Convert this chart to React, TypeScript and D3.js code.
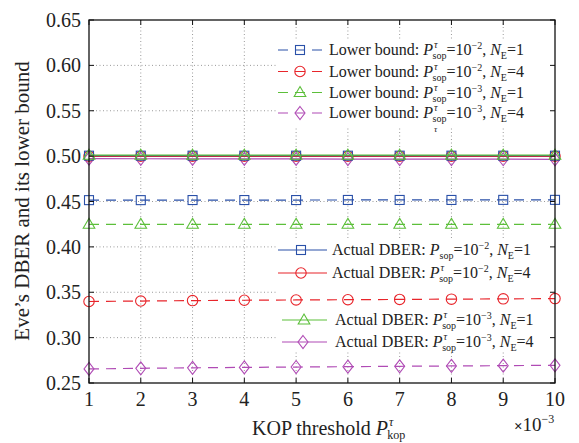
import React from "react";
import * as d3 from "d3";

const xValues = [1, 2, 3, 4, 5, 6, 7, 8, 9, 10];
const xTicks = [1, 2, 3, 4, 5, 6, 7, 8, 9, 10];
const yTicks = [0.25, 0.3, 0.35, 0.4, 0.45, 0.5, 0.55, 0.6, 0.65];

// Lower bounds (dashed)
const lbSop2NE1 = [0.4515, 0.4515, 0.4516, 0.4516, 0.4516, 0.4517, 0.4517, 0.4517, 0.4518, 0.4518];
const lbSop2NE4 = [0.3398, 0.3403, 0.3408, 0.3412, 0.3415, 0.3418, 0.3421, 0.3424, 0.3427, 0.343];
const lbSop3NE1 = [0.4249, 0.4249, 0.4249, 0.4249, 0.4249, 0.4249, 0.4249, 0.4249, 0.4249, 0.4249];
const lbSop3NE4 = [0.2655, 0.2662, 0.2667, 0.2672, 0.2676, 0.268, 0.2684, 0.2688, 0.2691, 0.2695];

// Actual DBER (solid)
const acSop2NE1 = [0.5005, 0.5005, 0.5005, 0.5005, 0.5005, 0.5005, 0.5005, 0.5005, 0.5005, 0.5005];
const acSop2NE4 = [0.4998, 0.4998, 0.4998, 0.4998, 0.4998, 0.4998, 0.4998, 0.4998, 0.4998, 0.4998];
const acSop3NE1 = [0.501, 0.501, 0.501, 0.501, 0.501, 0.501, 0.501, 0.501, 0.501, 0.501];
const acSop3NE4 = [0.4972, 0.4971, 0.497, 0.497, 0.4969, 0.4968, 0.4968, 0.4967, 0.4966, 0.4965];

const BLUE = "#2a50a8";
const RED = "#e8252b";
const GREEN = "#5cbf3a";
const MAGENTA = "#b04bb5";

const FONT = '"Liberation Serif", "Times New Roman", Times, serif';

const L = 89, R = 555, T = 20, B = 383;
const x = d3.scaleLinear().domain([1, 10]).range([L, R]);
const y = d3.scaleLinear().domain([0.25, 0.65]).range([B, T]);

type Shape = "square" | "circle" | "triangle" | "diamond";

function Marker({ shape, cx, cy, color }: { shape: Shape; cx: number; cy: number; color: string }) {
  const common = { fill: "none", stroke: color, strokeWidth: 1.1 };
  if (shape === "square") return <rect x={cx - 4.5} y={cy - 4.5} width={9} height={9} {...common} />;
  if (shape === "circle") return <circle cx={cx} cy={cy} r={5.2} {...common} />;
  if (shape === "triangle")
    return <path d={`M${cx},${cy - 6} L${cx + 5.8},${cy + 4} L${cx - 5.8},${cy + 4} Z`} {...common} />;
  return <path d={`M${cx},${cy - 6.5} L${cx + 5},${cy} L${cx},${cy + 6.5} L${cx - 5},${cy} Z`} {...common} />;
}

function Series({ values, color, shape, dashed }: { values: number[]; color: string; shape: Shape; dashed: boolean }) {
  const line = d3.line<number>().x((_, i) => x(xValues[i])).y((v) => y(v));
  return (
    <g>
      <path d={line(values) || ""} fill="none" stroke={color} strokeWidth={1.2} strokeDasharray={dashed ? "10,7" : undefined} />
      {values.map((v, i) => (
        <Marker key={i} shape={shape} cx={x(xValues[i])} cy={y(v)} color={color} />
      ))}
    </g>
  );
}

function LegendLabel({ prefix, tau, exp, ne, tx, ty }: { prefix: string; tau: boolean; exp: string; ne: string; tx: number; ty: number }) {
  return (
    <text x={tx} y={ty} style={{ fontFamily: FONT }} fontSize={16} fill="#222">
      {prefix}
      <tspan fontStyle="italic">P</tspan>
      {tau ? (
        <>
          <tspan fontStyle="italic" fontSize={10} dy={-7} dx={1}>τ</tspan>
          <tspan fontSize={10} dy={11} dx={-5}>sop</tspan>
        </>
      ) : (
        <tspan fontSize={10} dy={4} dx={0}>sop</tspan>
      )}
      <tspan dy={-4}>=10</tspan>
      <tspan fontSize={10} dy={-6}>−{exp}</tspan>
      <tspan dy={6}>, </tspan>
      <tspan fontStyle="italic">N</tspan>
      <tspan fontSize={10} dy={4}>E</tspan>
      <tspan dy={-4}>={ne}</tspan>
    </text>
  );
}

const legend1 = [
  { color: BLUE, shape: "square" as Shape, exp: "2", ne: "1", tau: true, cy: 50 },
  { color: RED, shape: "circle" as Shape, exp: "2", ne: "4", tau: true, cy: 71.5 },
  { color: GREEN, shape: "triangle" as Shape, exp: "3", ne: "1", tau: true, cy: 92.5 },
  { color: MAGENTA, shape: "diamond" as Shape, exp: "3", ne: "4", tau: true, cy: 113 },
];

const legend2 = [
  { color: BLUE, shape: "square" as Shape, exp: "2", ne: "1", tau: false, cy: 250, x0: 278, mx: 301, tx: 332 },
  { color: RED, shape: "circle" as Shape, exp: "2", ne: "4", tau: true, cy: 273, x0: 278, mx: 301, tx: 332 },
  { color: GREEN, shape: "triangle" as Shape, exp: "3", ne: "1", tau: true, cy: 320, x0: 282, mx: 304, tx: 335 },
  { color: MAGENTA, shape: "diamond" as Shape, exp: "3", ne: "4", tau: true, cy: 342, x0: 282, mx: 303, tx: 335 },
];

export default function App() {
  return (
    <svg width={579} height={443} style={{ position: "absolute", left: 0, top: 0, background: "#fff", fontFamily: FONT }}>
      <rect x={0} y={0} width={579} height={443} fill="#fff" />
      {/* grid */}
      <g stroke="#9a9a9a" strokeWidth={1} strokeDasharray="1,2.5">
        {xTicks.slice(1, -1).map((t) => (
          <line key={"gx" + t} x1={x(t)} x2={x(t)} y1={T} y2={B} />
        ))}
        {yTicks.slice(1, -1).map((t) => (
          <line key={"gy" + t} x1={L} x2={R} y1={y(t)} y2={y(t)} />
        ))}
      </g>
      {/* legend backgrounds */}
      <rect x={278} y={40} width={274} height={88} fill="#fff" />
      <rect x={277} y={240} width={275} height={112} fill="#fff" />

      {/* series */}
      <Series values={lbSop2NE1} color={BLUE} shape="square" dashed />
      <Series values={lbSop2NE4} color={RED} shape="circle" dashed />
      <Series values={lbSop3NE1} color={GREEN} shape="triangle" dashed />
      <Series values={lbSop3NE4} color={MAGENTA} shape="diamond" dashed />
      <Series values={acSop3NE4} color={MAGENTA} shape="diamond" dashed={false} />
      <Series values={acSop2NE4} color={RED} shape="circle" dashed={false} />
      <Series values={acSop2NE1} color={BLUE} shape="square" dashed={false} />
      <Series values={acSop3NE1} color={GREEN} shape="triangle" dashed={false} />

      {/* axes frame */}
      <rect x={L} y={T} width={R - L} height={B - T} fill="none" stroke="#111" strokeWidth={1.3} />
      <g stroke="#111" strokeWidth={1}>
        {xTicks.map((t) => (
          <g key={"tx" + t}>
            <line x1={x(t)} x2={x(t)} y1={B} y2={B - 5} />
            <line x1={x(t)} x2={x(t)} y1={T} y2={T + 5} />
          </g>
        ))}
        {yTicks.map((t) => (
          <g key={"ty" + t}>
            <line x1={L} x2={L + 5} y1={y(t)} y2={y(t)} />
            <line x1={R} x2={R - 5} y1={y(t)} y2={y(t)} />
          </g>
        ))}
      </g>
      {/* tick labels */}
      <g style={{ fontFamily: FONT }} fontSize={20} fill="#222">
        {yTicks.map((t) => (
          <text key={"ly" + t} x={81} y={y(t) + 7} textAnchor="end">
            {d3.format(".2f")(t)}
          </text>
        ))}
        {xTicks.map((t) => (
          <text key={"lx" + t} x={x(t)} y={406} textAnchor="middle">
            {t}
          </text>
        ))}
      </g>
      {/* axis labels */}
      <text transform="translate(29,201) rotate(-90)" textAnchor="middle" style={{ fontFamily: FONT }} fontSize={21} fill="#222">
        Eve’s DBER and its lower bound
      </text>
      <text x={252} y={435} style={{ fontFamily: FONT }} fontSize={20} fill="#222">
        KOP threshold <tspan fontStyle="italic">P</tspan>
        <tspan fontStyle="italic" fontSize={12} dy={-9} dx={1}>τ</tspan>
        <tspan fontSize={12} dy={13} dx={-6}>kop</tspan>
      </text>
      <text x={514} y={431} style={{ fontFamily: FONT }} fontSize={19} fill="#222">
        <tspan fontWeight="bold" fontSize={15}>×</tspan>10
        <tspan fontSize={12} dy={-8}>−3</tspan>
      </text>

      {/* legend 1 */}
      {legend1.map((e, i) => (
        <g key={"l1" + i}>
          <line x1={278} x2={323} y1={e.cy} y2={e.cy} stroke={e.color} strokeWidth={1.2} strokeDasharray="10,7" />
          <Marker shape={e.shape} cx={300} cy={e.cy} color={e.color} />
          <LegendLabel prefix="Lower bound: " tau={e.tau} exp={e.exp} ne={e.ne} tx={329} ty={e.cy + 5} />
        </g>
      ))}
      <text x={434} y={132} style={{ fontFamily: FONT }} fontSize={9} fontStyle="italic" fill="#222">τ</text>

      {/* legend 2 */}
      {legend2.map((e, i) => (
        <g key={"l2" + i}>
          <line x1={e.x0} x2={327} y1={e.cy} y2={e.cy} stroke={e.color} strokeWidth={1.2} />
          <Marker shape={e.shape} cx={e.mx} cy={e.cy} color={e.color} />
          <LegendLabel prefix="Actual DBER: " tau={e.tau} exp={e.exp} ne={e.ne} tx={e.tx} ty={e.cy + 5} />
        </g>
      ))}
    </svg>
  );
}
